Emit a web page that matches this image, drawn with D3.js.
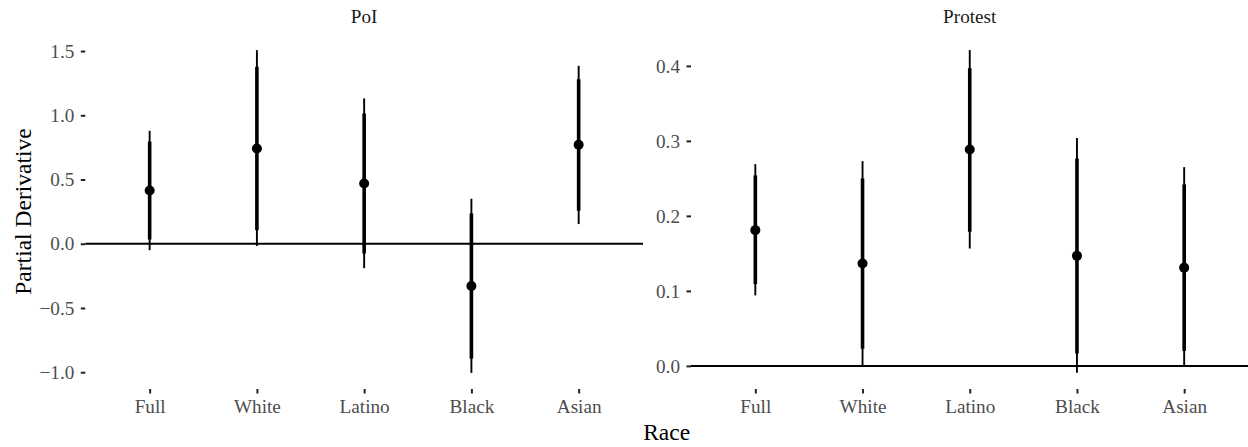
<!DOCTYPE html>
<html>
<head>
<meta charset="utf-8">
<script src="https://cdn.jsdelivr.net/npm/d3@7"></script>
<style>
  html, body { margin: 0; padding: 0; background: #fff; }
  svg { display: block; }
  text { font-family: "Liberation Serif", "Times New Roman", serif; }
</style>
</head>
<body>
<svg id="chart" width="1248" height="447"></svg>
<script>
// Categories shared by both facets
const races = ["Full", "White", "Latino", "Black", "Asian"];

// PoI facet: point estimate, inner (thick) interval, outer (thin) interval
const poiEst      = [0.415, 0.742, 0.469, -0.329, 0.770];
const poiInnerLo  = [0.033, 0.106, -0.076, -0.893, 0.256];
const poiInnerHi  = [0.795, 1.377, 1.014, 0.236, 1.280];
const poiOuterLo  = [-0.050, -0.017, -0.190, -1.005, 0.153];
const poiOuterHi  = [0.879, 1.507, 1.131, 0.350, 1.385];

// Protest facet
const protEst     = [0.181, 0.1365, 0.2885, 0.1467, 0.131];
const protInnerLo = [0.109, 0.023, 0.179, 0.0165, 0.020];
const protInnerHi = [0.254, 0.250, 0.397, 0.2765, 0.242];
const protOuterLo = [0.094, 0.000, 0.1565, -0.0093, -0.001];
const protOuterHi = [0.269, 0.273, 0.421, 0.304, 0.265];

// Tick labels
const poiTicks  = [-1.0, -0.5, 0.0, 0.5, 1.0, 1.5];
const protTicks = [0.0, 0.1, 0.2, 0.3, 0.4];

const facetNames = ["PoI", "Protest"];
const xTitle = "Race";
const yTitle = "Partial Derivative";

function rows(est, ilo, ihi, olo, ohi) {
  return races.map((r, i) => ({ race: r, est: est[i], ilo: ilo[i], ihi: ihi[i], olo: olo[i], ohi: ohi[i] }));
}

const facets = [
  { name: facetNames[0], data: rows(poiEst, poiInnerLo, poiInnerHi, poiOuterLo, poiOuterHi), ticks: poiTicks, x0: 85.3, x1: 643 },
  { name: facetNames[1], data: rows(protEst, protInnerLo, protInnerHi, protOuterLo, protOuterHi), ticks: protTicks, x0: 691, x1: 1248.5 }
];

const panelTop = 34, panelBottom = 389;
const svg = d3.select("#chart");
const fmt = d3.format(".1f");

facets.forEach(f => {
  // continuous scale with 5% expansion of the data range
  const lo = d3.min(f.data, d => d.olo), hi = d3.max(f.data, d => d.ohi);
  const pad = (hi - lo) * 0.05;
  const y = d3.scaleLinear().domain([lo - pad, hi + pad]).range([panelBottom, panelTop]);
  const x = d3.scalePoint().domain(races).range([f.x0, f.x1]).padding(0.6);

  const g = svg.append("g");

  // y axis
  const ya = g.append("g")
    .attr("transform", `translate(${f.x0},0)`)
    .call(d3.axisLeft(y).tickValues(f.ticks).tickFormat(fmt).tickSize(4.5).tickPadding(6.5));
  ya.select(".domain").remove();
  ya.selectAll(".tick line").attr("stroke", "#222").attr("stroke-width", 2);
  ya.selectAll(".tick text").attr("fill", "#4d4d4d").style("font-size", "19.2px")
    .style("font-family", "'Liberation Serif', serif");

  // x axis
  const xa = g.append("g")
    .attr("transform", `translate(0,${panelBottom})`)
    .call(d3.axisBottom(x).tickSize(4.5).tickPadding(5.4));
  xa.select(".domain").remove();
  xa.selectAll(".tick line").attr("stroke", "#222").attr("stroke-width", 2);
  xa.selectAll(".tick text").attr("fill", "#4d4d4d").style("font-size", "19.2px")
    .style("font-family", "'Liberation Serif', serif");

  // zero reference line
  g.append("line")
    .attr("x1", f.x0).attr("x2", f.x1)
    .attr("y1", y(0)).attr("y2", y(0))
    .attr("stroke", "#000").attr("stroke-width", 2);

  // outer intervals
  g.selectAll(".outer").data(f.data).join("line")
    .attr("class", "outer")
    .attr("x1", d => x(d.race)).attr("x2", d => x(d.race))
    .attr("y1", d => y(d.olo)).attr("y2", d => y(d.ohi))
    .attr("stroke", "#000").attr("stroke-width", 1.9);

  // inner intervals
  g.selectAll(".inner").data(f.data).join("line")
    .attr("class", "inner")
    .attr("x1", d => x(d.race)).attr("x2", d => x(d.race))
    .attr("y1", d => y(d.ilo)).attr("y2", d => y(d.ihi))
    .attr("stroke", "#000").attr("stroke-width", 3.6);

  // point estimates
  g.selectAll(".est").data(f.data).join("circle")
    .attr("class", "est")
    .attr("cx", d => x(d.race)).attr("cy", d => y(d.est))
    .attr("r", 5).attr("fill", "#000");

  // facet strip label
  g.append("text")
    .attr("x", (f.x0 + f.x1) / 2).attr("y", 23.3)
    .attr("text-anchor", "middle")
    .attr("fill", "#1a1a1a")
    .style("font-size", "19.2px")
    .text(f.name);
});

// axis titles
svg.append("text")
  .attr("x", (85.3 + 1248) / 2).attr("y", 440)
  .attr("text-anchor", "middle")
  .attr("fill", "#000")
  .style("font-size", "23.5px")
  .text(xTitle);

svg.append("text")
  .attr("transform", `translate(31,${(panelTop + panelBottom) / 2}) rotate(-90)`)
  .attr("text-anchor", "middle")
  .attr("fill", "#000")
  .style("font-size", "23.5px")
  .text(yTitle);
</script>
</body>
</html>
